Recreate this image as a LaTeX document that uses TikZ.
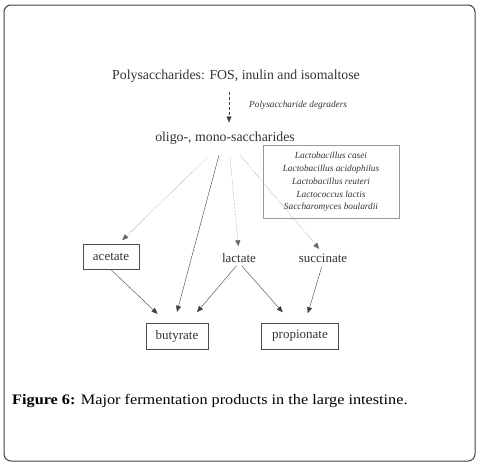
\documentclass[tikz,border=0pt]{standalone}
\usepackage{fontspec}
\setmainfont{Liberation Serif}
\newfontfamily\capfont[FakeStretch=1.12]{Liberation Serif}
\usetikzlibrary{arrows.meta, positioning}

\begin{document}
\begin{tikzpicture}[
  x=1pt, y=-1pt,
  txt/.style={inner sep=0pt, text=black!80, font=\fontsize{13.8}{15}\selectfont},
  small/.style={inner sep=0pt, text=black!80, font=\fontsize{9.3}{12.8}\selectfont\itshape},
  prod/.style={rectangle, draw=black!70, text=black!80, inner sep=0pt,
               minimum height=25pt, font=\fontsize{13}{14}\selectfont},
  plain/.style={inner sep=0pt, text=black!80, font=\fontsize{13}{14}\selectfont},
  arrow/.style={-{Triangle[length=6pt,width=5pt]}, draw=black!75, thin},
  dotarrow/.style={arrow, densely dotted},
  dasharrow/.style={arrow, densely dashed}
]
  \useasboundingbox (0,0) rectangle (481,466);
  \draw[black!75, line width=1pt, rounded corners=7pt] (4,5) rectangle (475,461);

  \node[txt] (poly) at (236,76) {Polysaccharides: FOS, inulin and isomaltose};
  \node[small, anchor=west] (degr) at (249,105) {Polysaccharide degraders};
  \node[txt] (oligo) at (225,138) {oligo-, mono-saccharides};
  \node[rectangle, draw=black!40, minimum width=136pt, minimum height=73pt,
        small, align=center] (species) at (331,182)
    {Lactobacillus casei\\Lactobacillus acidophilus\\Lactobacillus reuteri\\
     Lactococcus lactis\\Saccharomyces boulardii};

  \node[prod, minimum width=56pt] (acetate) at (111,257) {acetate};
  \node[plain] (lactate) at (239,258) {lactate};
  \node[plain] (succinate) at (323,258) {succinate};
  \node[prod, minimum width=62pt, minimum height=26pt] (butyrate) at (177,336) {butyrate};
  \node[prod, minimum width=77pt, minimum height=26pt] (propionate) at (300,336) {propionate};

  \coordinate (o1) at (208,157);
  \coordinate (o2) at (219,155);
  \coordinate (o3) at (230,157);
  \coordinate (o4) at (240,155);

  \draw[dasharrow, shorten <=10pt, shorten >=9pt] ([xshift=-7pt]poly.south) -- ([xshift=4pt]oligo.north);
  \draw[dotarrow, black!60, shorten >=6pt] (o1) -- ([xshift=7pt]acetate.north);
  \draw[arrow] (o2) -- ([yshift=11pt]butyrate.north);
  \draw[dotarrow, black!60, shorten >=7pt] (o3) -- (lactate.north);
  \draw[dotarrow, black!60, shorten >=6pt] (o4) -- (succinate.north);

  \draw[arrow, shorten >=13pt] (acetate.south) -- ([xshift=-10pt]butyrate.north);
  \draw[arrow, shorten <=4pt, shorten >=14pt] (lactate.south) -- ([xshift=11pt]butyrate.north);
  \draw[arrow, shorten <=4pt, shorten >=14pt] (lactate.south) -- ([xshift=-8pt]propionate.north);
  \draw[arrow, shorten <=4pt, shorten >=10pt] (succinate.south) -- ([xshift=5pt]propionate.north);

  \node[anchor=west, inner sep=0pt, font=\capfont\fontsize{14.5}{16}\selectfont] (caption) at (12,401)
    {\textbf{Figure 6:} Major fermentation products in the large intestine.};
\end{tikzpicture}
\end{document}
